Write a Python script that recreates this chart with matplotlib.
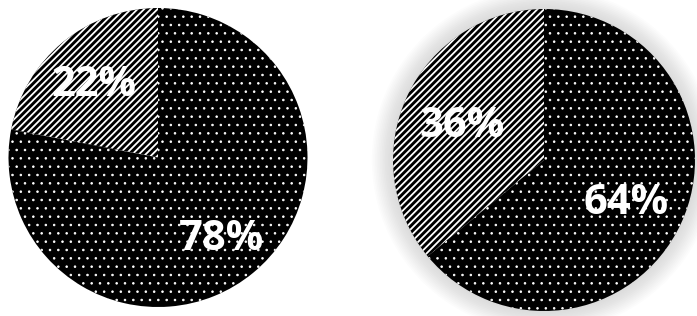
import matplotlib

matplotlib.use("Agg")
import matplotlib.pyplot as plt
from matplotlib.patches import Circle
import numpy as np

# pie data (percent)
left_values = [22, 78]
right_values = [36, 64]
hatches = ["/////", ".."]
hatch_widths = [1.3, 0.6]

W, H = 697, 316
plt.rcParams["font.family"] = ["Open Sans", "DejaVu Sans"]

fig = plt.figure(figsize=(W / 100, H / 100), dpi=100)


def pie_axes(cx, cy, r, lim):
    # cx, cy, r in pixels (y from top)
    size = 2 * r * lim
    return fig.add_axes([(cx - r * lim) / W, (H - cy - r * lim) / H, size / W, size / H])


def draw_pie(ax, values, pctdist, glow=False):
    if glow:
        for rr in np.linspace(1.0, 1.14, 14):
            ax.add_patch(Circle((0, 0), rr, color="#909090", alpha=0.022, lw=0, zorder=0))
    wedges, _, autotexts = ax.pie(
        values,
        startangle=90,
        counterclock=True,
        colors=["black", "black"],
        wedgeprops=dict(edgecolor="white", linewidth=0),
        autopct=lambda p: f"{p:.0f}%",
        pctdistance=pctdist,
        textprops=dict(color="white", fontsize=30, fontweight="bold"),
    )
    for w, h, lw in zip(wedges, hatches, hatch_widths):
        w.set_hatch(h)
        if hasattr(w, "set_hatch_linewidth"):
            w.set_hatch_linewidth(lw)
        else:
            w._hatch_linewidth = lw
        w.set_zorder(2)
    for t in autotexts:
        t.set_verticalalignment("center_baseline")
        t.set_zorder(3)


ax1 = pie_axes(158, 157.5, 149.5, 1.0)
draw_pie(ax1, left_values, 0.67)
ax1.set_xlim(-1, 1)
ax1.set_ylim(-1, 1)
ax1.set_aspect("equal")

ax2 = pie_axes(544, 160, 151, 1.2)
draw_pie(ax2, right_values, 0.6, glow=True)
ax2.set_xlim(-1.2, 1.2)
ax2.set_ylim(-1.2, 1.2)
ax2.set_aspect("equal")

fig.savefig("out.png", dpi=100)
plt.close(fig)
